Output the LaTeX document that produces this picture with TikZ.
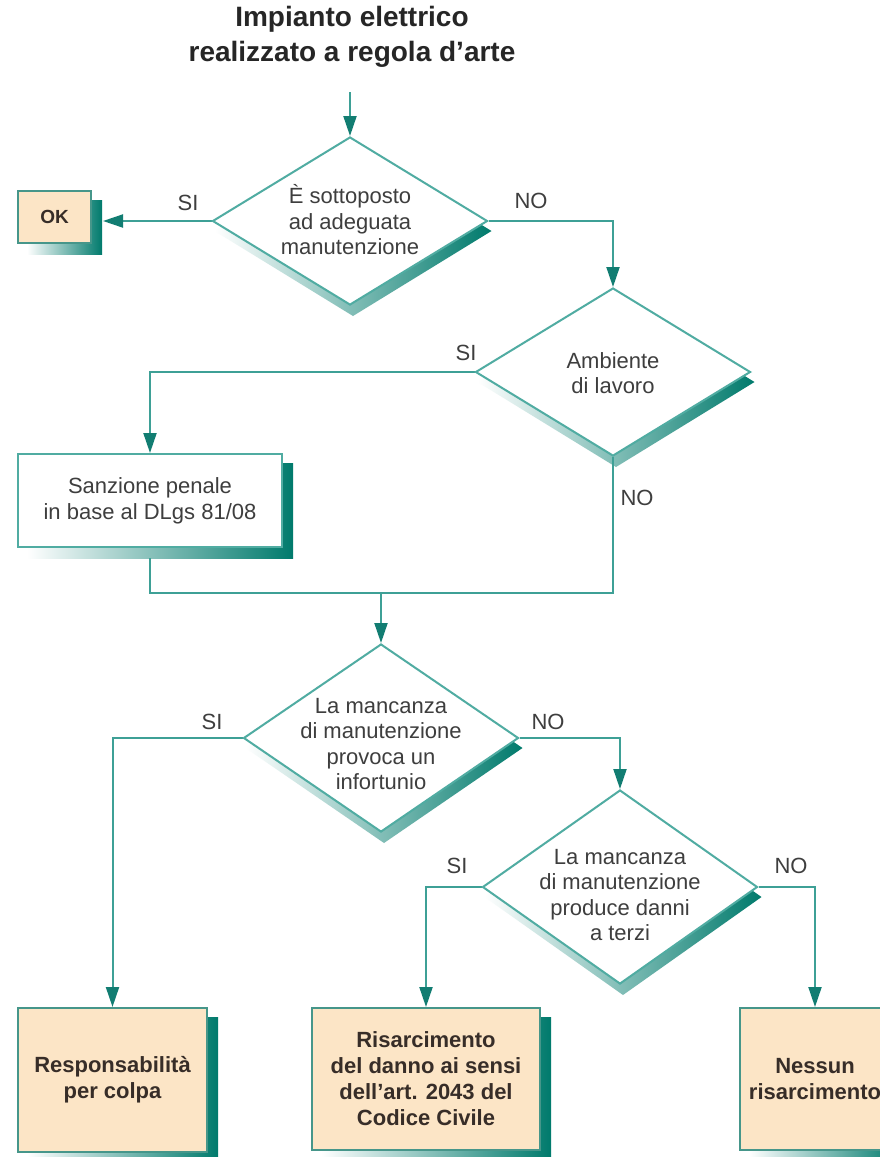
\documentclass[tikz,border=0pt]{standalone}
\usepackage{fontspec}
\setmainfont{Liberation Sans}
\usetikzlibrary{shapes.geometric,arrows.meta,calc}
\definecolor{lineteal}{RGB}{62,160,150}
\definecolor{arrteal}{RGB}{18,125,114}
\definecolor{diateal}{RGB}{80,172,162}
\definecolor{shteal}{RGB}{0,122,108}
\definecolor{boxedge}{RGB}{70,150,138}
\definecolor{beige}{RGB}{252,229,198}
\definecolor{txt}{RGB}{62,62,62}
\definecolor{btxt}{RGB}{55,45,40}
\pgfdeclarelayer{back}
\pgfdeclarelayer{bg}
\pgfsetlayers{back,bg,main}
\newcommand\diashade[1]{%
  \shade[left color=white,middle color=shteal!65,right color=shteal]
    ($(#1.north)+(3,10)$) -- ($(#1.east)+(3,10)$) -- ($(#1.south)+(3,10)$) -- ($(#1.west)+(3,10)$) -- cycle;}
\newcommand\boxshade[1]{%
  \shade[left color=white,middle color=shteal!80,right color=shteal]
    ($(#1.south west)+(10,10)$) rectangle ($(#1.north east)+(10,10)$);}
\begin{document}
\begin{tikzpicture}[x=1pt,y=-1pt,
  conn/.style={draw=lineteal,line width=2pt},
  arr/.style={conn,-{Triangle[length=20pt,width=13pt,color=arrteal,fill=arrteal]}},
  dia/.style={diamond,draw=diateal,line width=2pt,fill=white,inner sep=0pt,minimum width=275pt,minimum height=#1},
  dtxt/.style={align=center,text=txt,font=\fontsize{22}{25.5}\selectfont,inner sep=0pt},
  lab/.style={text=txt,font=\fontsize{22}{25}\selectfont,inner sep=0pt},
  wbox/.style={rectangle,draw=diateal,line width=2pt,fill=white,align=center,text=txt,font=\fontsize{22}{26}\selectfont,inner sep=0pt},
  endbox/.style={rectangle,draw=boxedge,line width=2pt,fill=beige,align=center,text=btxt,font=\bfseries\fontsize{22}{26}\selectfont,inner sep=0pt}]
\useasboundingbox (0,0) rectangle (879,1157);
\begin{pgfonlayer}{back}
\fill[white] (0,0) rectangle (879,1157);
\end{pgfonlayer}

% title
\node[align=center,text=black!85,font=\bfseries\fontsize{28}{35}\selectfont,inner sep=0pt] (title) at (352,37) {Impianto elettrico\\realizzato a regola d’arte};
\coordinate (s0) at (350,92);

% decision nodes
\node[dia=168pt] (d1) at (350,221) {};
\node[dtxt] (t1) at (350,220) {È sottoposto\\ad adeguata\\manutenzione};
\node[dia=168pt] (d2) at (613,372) {};
\node[dtxt] (t2) at (613,373) {Ambiente\\di lavoro};
\node[dia=188pt] (d3) at (381,738) {};
\node[dtxt] (t3) at (381,744) {La mancanza\\di manutenzione\\provoca un\\infortunio};
\node[dia=194pt] (d4) at (620,887) {};
\node[dtxt] (t4) at (620,895) {La mancanza\\di manutenzione\\produce danni\\a terzi};

% boxes
\node[endbox,font=\bfseries\fontsize{19}{22}\selectfont,minimum width=73pt,minimum height=52pt] (ok) at (54.5,217) {OK};
\node[wbox,minimum width=264pt,minimum height=93pt] (san) at (150,500.5) {Sanzione penale\\in base al DLgs 81/08};
\node[endbox,minimum width=189pt,minimum height=144pt] (resp) at (112.5,1080) {Responsabilità\\per colpa};
\node[endbox,minimum width=228pt,minimum height=142pt] (ris) at (426,1079) {Risarcimento\\del danno ai sensi\\dell'art. 2043 del\\Codice Civile};
\node[endbox,minimum width=150pt,minimum height=142pt] (nes) at (815,1079) {Nessun\\risarcimento};

% shadows
\begin{pgfonlayer}{bg}
\diashade{d1}\diashade{d2}\diashade{d3}\diashade{d4}
\boxshade{ok}\boxshade{san}\boxshade{resp}\boxshade{ris}\boxshade{nes}
\end{pgfonlayer}

% connectors
\begin{pgfonlayer}{bg}
\draw[arr] (s0) -- (d1.north);
\draw[arr] (d1.west) -- ([xshift=11pt]d1.west -| ok.east);
\draw[arr] (d1.east) -| (d2.north);
\draw[arr] (d2.west) -| (san.north);
\coordinate (j) at (381,593);
\draw[conn] ($(san.south)+(0,10)$) |- (j) -| (d2.south);
\draw[arr] (j) -- (d3.north);
\draw[arr] (d3.west) -| (resp.north);
\draw[arr] (d3.east) -| (d4.north);
\draw[arr] (d4.west) -| (ris.north);
\draw[arr] (d4.east) -| (nes.north);
\end{pgfonlayer}

% labels
\node[lab] (l1) at (188,203) {SI};
\node[lab] (l2) at (531,201) {NO};
\node[lab] (l3) at (466,353) {SI};
\node[lab] (l4) at (637,498) {NO};
\node[lab] (l5) at (212,722) {SI};
\node[lab] (l6) at (548,722) {NO};
\node[lab] (l7) at (457,866) {SI};
\node[lab] (l8) at (791,866) {NO};
\end{tikzpicture}
\end{document}
